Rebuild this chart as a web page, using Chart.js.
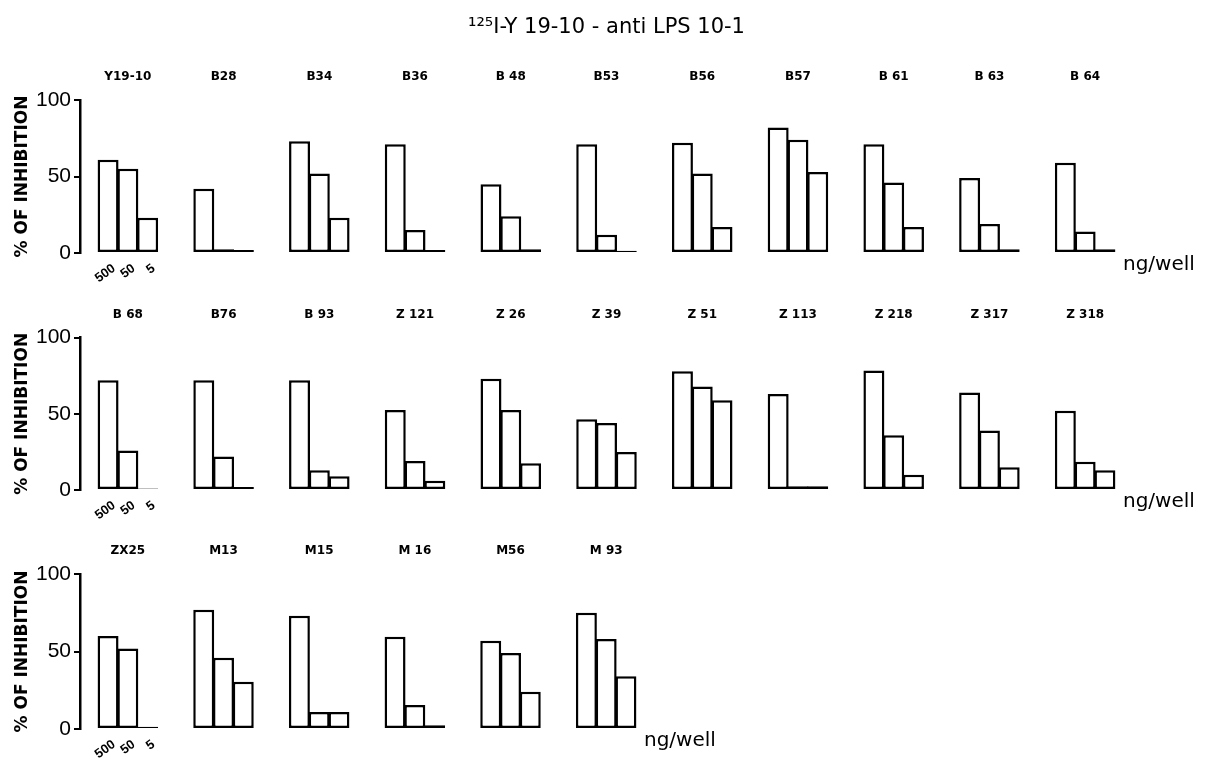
<!DOCTYPE html>
<html>
<head>
<meta charset="utf-8">
<script src="https://cdn.jsdelivr.net/npm/chart.js@4/dist/chart.umd.min.js"></script>
<style>
  body { margin: 0; background: #fff; }
  #wrap { position: relative; width: 1206px; height: 762px; overflow: hidden; }
  canvas { position: absolute; left: 0; }
</style>
</head>
<body>
<div id="wrap">
  <canvas id="row1" width="1206" height="290" style="top:0px"></canvas>
  <canvas id="row2" width="1206" height="240" style="top:290px"></canvas>
  <canvas id="row3" width="740" height="232" style="top:530px"></canvas>
</div>
<script>
// doses under each group (ng/well)
var doses = ['500', '50', '5'];

var row1Names = ['Y19-10', 'B28', 'B34', 'B36', 'B 48', 'B53', 'B56', 'B57', 'B 61', 'B 63', 'B 64'];
var row1At500 = [61, 42, 73, 71, 45, 71, 72, 82, 71, 49, 59];
var row1At50 = [55, 2.5, 52, 15, 24, 12, 52, 74, 46, 19, 14];
var row1At5 = [23, 2, 23, 2, 2.5, 1.5, 17, 53, 17, 2.5, 2.5];

var row2Names = ['B 68', 'B76', 'B 93', 'Z 121', 'Z 26', 'Z 39', 'Z 51', 'Z 113', 'Z 218', 'Z 317', 'Z 318'];
var row2At500 = [72, 72, 72, 52.5, 73, 46.5, 78, 63, 78.5, 64, 52];
var row2At50 = [26, 22, 13, 19, 52.5, 44, 68, 2.5, 36, 39, 18.5];
var row2At5 = [1, 2, 9, 6, 17.5, 25, 59, 2.5, 10, 15, 13];

var row3Names = ['ZX25', 'M13', 'M15', 'M 16', 'M56', 'M 93'];
var row3At500 = [60, 77, 73, 59.5, 57, 75];
var row3At50 = [52, 46, 11, 15.5, 49, 58];
var row3At5 = [1.5, 30.5, 11, 2.5, 24, 34];

// dose labels under the first group + "ng/well" at the right end of each row
var doseNotes = {
	id: 'doseNotes',
	afterDraw: function(chart) {
		var ctx = chart.ctx;
		var area = chart.chartArea;
		ctx.save();
		ctx.fillStyle = '#000';
		ctx.font = 'bold 13px "Liberation Sans"';
		ctx.textAlign = 'right';
		ctx.textBaseline = 'middle';
		for (var d = 0; d < doses.length; d++) {
			var bar = chart.getDatasetMeta(d).data[0];
			ctx.save();
			ctx.translate(bar.x + 6, area.bottom + 14);
			ctx.rotate(-Math.PI / 5);
			ctx.fillText(doses[d], 0, 0);
			ctx.restore();
		}
		ctx.font = '20px "DejaVu Sans"';
		ctx.textAlign = 'left';
		ctx.fillText('ng/well', area.right - 10, area.bottom + 12);
		ctx.restore();
	}
};

function makeRow(id, names, at500, at50, at5, topGap, bottomGap, rightGap, title) {
	var bars = [at500, at50, at5];
	var datasets = [];
	for (var i = 0; i < bars.length; i++) {
		datasets.push({
			label: doses[i] + ' ng/well',
			data: bars[i],
			backgroundColor: '#fff',
			borderColor: '#000',
			borderWidth: 2.5,
			borderSkipped: false,
			categoryPercentage: 0.62,
			barPercentage: 1.06
		});
	}

	return new Chart(document.getElementById(id), {
		type: 'bar',
		data: { labels: names, datasets: datasets },
		options: {
			responsive: false,
			animation: false,
			layout: { padding: { left: 0, top: 0, right: rightGap, bottom: bottomGap } },
			plugins: {
				legend: { display: false },
				tooltip: { enabled: false },
				title: {
					display: !!title,
					text: title || '',
					fullSize: false,
					color: '#000',
					font: { family: 'DejaVu Sans', size: 21, weight: 'normal' },
					padding: { top: 15, bottom: 0 }
				}
			},
			scales: {
				x: {
					position: 'top',
					afterFit: function(s) { s.height = topGap; },
					grid: { display: false, drawTicks: false },
					border: { display: false },
					ticks: {
						autoSkip: false,
						maxRotation: 0,
						padding: 16,
						color: '#000',
						font: { family: 'DejaVu Sans', size: 12, weight: 'bold' }
					}
				},
				y: {
					min: 0,
					max: 100,
					afterFit: function(s) { s.width = 80; },
					ticks: {
						stepSize: 50,
						padding: 3,
						color: '#000',
						font: { family: 'Liberation Sans', size: 21 }
					},
					grid: { drawOnChartArea: false, drawTicks: true, tickLength: 6, color: '#000', lineWidth: 2 },
					border: { display: true, color: '#000', width: 2.5 },
					title: {
						display: true,
						text: '% OF INHIBITION',
						color: '#000',
						font: { family: 'DejaVu Sans', size: 17, weight: 'bold' },
						padding: { top: 12, bottom: 0 }
					}
				}
			}
		},
		plugins: [doseNotes]
	});
}

makeRow('row1', row1Names, row1At500, row1At50, row1At5, 59.8, 37, 73, '\u00B9\u00B2\u2075I-Y 19-10 - anti LPS 10-1');
makeRow('row2', row2Names, row2At500, row2At50, row2At5, 47.7, 40, 73, null);
makeRow('row3', row3Names, row3At500, row3At50, row3At5, 44, 33, 86, null);
</script>
</body>
</html>
